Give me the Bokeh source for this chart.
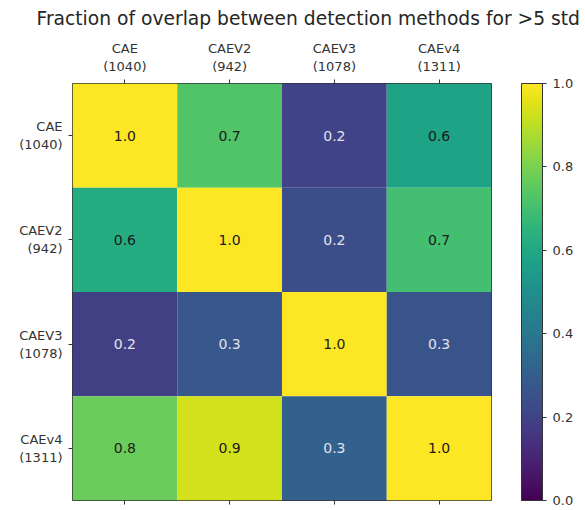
from bokeh.plotting import figure
from bokeh.models import (ColumnDataSource, LinearColorMapper, ColorBar, FixedTicker,
                          FactorRange, CategoricalAxis, Title, PrintfTickFormatter)
from bokeh.palettes import Viridis256
from bokeh.transform import transform
from bokeh.embed import file_html
from bokeh.resources import INLINE

# Detection methods and the number of detections each one produced
methods = ["CAE", "CAEV2", "CAEV3", "CAEv4"]
counts = [1040, 942, 1078, 1311]

# Fraction of overlap: row method vs column method
overlap_cae = [1.00, 0.73, 0.20, 0.58]
overlap_caev2 = [0.62, 1.00, 0.24, 0.70]
overlap_caev3 = [0.19, 0.27, 1.00, 0.26]
overlap_caev4 = [0.77, 0.93, 0.31, 1.00]
rows = [overlap_cae, overlap_caev2, overlap_caev3, overlap_caev4]

colorbar_ticks = [0.0, 0.2, 0.4, 0.6, 0.8, 1.0]

TITLE = "Fraction of overlap between detection methods for >5 std"
FONT = "DejaVu Sans"
labels = [f"{m}\n({c})" for m, c in zip(methods, counts)]

xs, ys, vals, txt, txt_col = [], [], [], [], []
for r, row in enumerate(rows):
    for c, v in enumerate(row):
        xs.append(labels[c])
        ys.append(labels[r])
        vals.append(v)
        txt.append(f"{v:.1f}")
        txt_col.append("#1a1a1a" if v >= 0.5 else "#e2e2ec")

src = ColumnDataSource(dict(x=xs, y=ys, v=vals, t=txt, tc=txt_col))
mapper = LinearColorMapper(palette=Viridis256, low=0.0, high=1.0)

FRAME_H = 417
p = figure(width=585, height=510,
           x_range=FactorRange(*labels),
           y_range=FactorRange(*reversed(labels)),
           x_axis_location="above",
           toolbar_location=None, output_backend="svg",
           min_border_left=72, min_border_top=83,
           min_border_right=94, min_border_bottom=10)

p.title = Title(text=TITLE, align="left", offset=-36, vertical_align="top",
                text_font=FONT, text_font_size="18.7px", text_font_style="normal",
                text_color="#262626", standoff=14)

p.rect(x="x", y="y", width=1, height=1, source=src,
       fill_color=transform("v", mapper), line_color=None)
p.text(x="x", y="y", text="t", source=src, text_color="tc",
       text_align="center", text_baseline="middle",
       text_font_size="14px", text_font={"value": FONT})

p.add_layout(CategoricalAxis(), "below")

for ax in p.xaxis + p.yaxis:
    ax.major_tick_out = 4
    ax.major_tick_in = 0
    ax.axis_line_color = None
    ax.major_tick_line_color = "#333333"
    ax.major_label_text_font = FONT
    ax.major_label_text_font_size = "13px"
    ax.major_label_text_color = "#333333"
    ax.major_label_orientation = "horizontal"
    ax.major_label_standoff = 6

p.below[0].major_label_text_alpha = 0
p.yaxis.major_label_text_align = "right"

p.outline_line_color = "#333333"
p.outline_line_width = 1
p.grid.visible = False
p.background_fill_color = "white"

cb = ColorBar(color_mapper=mapper, ticker=FixedTicker(ticks=colorbar_ticks),
              formatter=PrintfTickFormatter(format="%.1f"),
              width=21, height=FRAME_H, padding=0, margin=0,
              location=(30, 0),
              major_tick_out=4, major_tick_in=0,
              major_tick_line_color="#333333",
              bar_line_color="#333333",
              label_standoff=6,
              major_label_text_font=FONT,
              major_label_text_font_size="13px",
              major_label_text_color="#333333",
              background_fill_color=None)
p.add_layout(cb, "right")

open("out.html", "w").write(file_html(p, INLINE))
